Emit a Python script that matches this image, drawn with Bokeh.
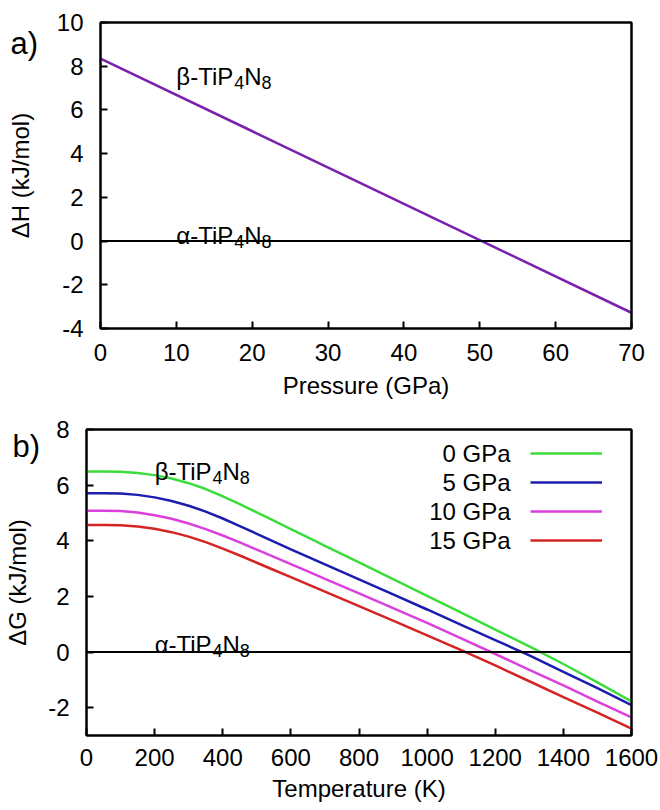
from bokeh.plotting import figure
from bokeh.models import Span, Label, Legend, LegendItem, FixedTicker, Range1d, LinearAxis
from bokeh.embed import file_html
from bokeh.resources import INLINE

FONT = "Liberation Sans"

# ---------------- data: panel a ----------------
pressure = [0, 70]
dH_beta = [8.35, -3.28]
xticks_a = [0, 10, 20, 30, 40, 50, 60, 70]
yticks_a = [-4, -2, 0, 2, 4, 6, 8, 10]

# ---------------- data: panel b ----------------
temperature = [0, 50, 100, 150, 200, 250, 300, 350, 400, 450, 500, 550, 600, 650, 700,
               800, 900, 1000, 1100, 1200, 1300, 1400, 1500, 1600]
dG_0GPa = [6.49, 6.49, 6.48, 6.44, 6.36, 6.24, 6.07, 5.86, 5.60, 5.32, 5.02, 4.72, 4.42, 4.12, 3.82,
           3.22, 2.62, 2.02, 1.42, 0.81, 0.20, -0.43, -1.09, -1.77]
dG_5GPa = [5.71, 5.71, 5.70, 5.65, 5.56, 5.43, 5.26, 5.05, 4.80, 4.53, 4.25, 3.97, 3.69, 3.42, 3.15,
           2.61, 2.07, 1.53, 0.98, 0.43, -0.12, -0.71, -1.30, -1.91]
dG_10GPa = [5.08, 5.08, 5.07, 5.02, 4.92, 4.79, 4.62, 4.42, 4.19, 3.94, 3.68, 3.42, 3.16, 2.90, 2.63,
            2.11, 1.58, 1.05, 0.49, -0.07, -0.64, -1.20, -1.78, -2.35]
dG_15GPa = [4.57, 4.57, 4.56, 4.51, 4.43, 4.31, 4.15, 3.95, 3.72, 3.47, 3.21, 2.95, 2.69, 2.43, 2.17,
            1.65, 1.13, 0.60, 0.07, -0.48, -1.05, -1.62, -2.18, -2.75]
series_labels = ["0 GPa", "5 GPa", "10 GPa", "15 GPa"]
series_colors = ["#3ddc3d", "#1c1cae", "#dc40dc", "#d42424"]
xticks_b = [0, 200, 400, 600, 800, 1000, 1200, 1400, 1600]
yticks_b = [-2, 0, 2, 4, 6, 8]


def frame_axis():
    return LinearAxis(ticker=FixedTicker(ticks=[]), axis_line_width=2, axis_line_color="black",
                      major_tick_in=0, major_tick_out=0, minor_tick_in=0, minor_tick_out=0,
                      major_label_standoff=0, axis_label=None)


def style(p, xticks, yticks, xlabel, ylabel, xstand, ylab_standoff):
    xa = p.below[0]
    ya = p.left[0]
    p.grid.visible = False
    p.outline_line_color = "black"
    p.outline_line_width = 2
    xa.axis_label = xlabel
    ya.axis_label = ylabel
    xa.ticker = FixedTicker(ticks=xticks)
    ya.ticker = FixedTicker(ticks=yticks)
    ya.major_label_overrides = {t: str(t) for t in yticks}
    for ax in (xa, ya):
        ax.major_tick_in = 7
        ax.major_tick_out = 0
        ax.minor_tick_in = 0
        ax.minor_tick_out = 0
        ax.major_tick_line_width = 2
        ax.major_tick_line_color = "black"
        ax.axis_line_width = 2
        ax.axis_line_color = "black"
        ax.major_label_text_font = FONT
        ax.major_label_text_font_size = "24px"
        ax.major_label_text_color = "black"
        ax.axis_label_text_font = FONT
        ax.axis_label_text_font_style = "normal"
        ax.axis_label_text_font_size = "24px"
        ax.axis_label_text_color = "black"
    xa.major_label_standoff = xstand[0]
    xa.axis_label_standoff = xstand[1]
    ya.major_label_standoff = 17
    ya.axis_label_standoff = ylab_standoff
    p.add_layout(frame_axis(), "above")
    p.add_layout(frame_axis(), "right")


def formula(p, x, y, prefix):
    # e.g. beta-TiP4N8 with subscripts
    parts = [(prefix + "-TiP", 24, 0, 0), ("4", 18, 57.8, -6), ("N", 24, 67.8, 0), ("8", 18, 85.1, -6)]
    for txt, size, dx, dy in parts:
        p.add_layout(Label(x=x, y=y, text=txt, x_offset=dx, y_offset=dy,
                           text_font=FONT, text_font_size=f"{size}px", text_color="black",
                           text_align="left", text_baseline="alphabetic"))


def panel_tag(p, text, cx, cy):
    # panel letter drawn in canvas coordinates (side panel => not clipped to the frame)
    p.add_layout(Label(x=cx, y=cy, x_units="canvas", y_units="canvas", text=text, text_font=FONT,
                       text_font_size="31px", text_color="black", text_baseline="alphabetic"), "right")


# ---------------- panel a ----------------
pa = figure(frame_width=531, frame_height=306, x_range=Range1d(0, 70), y_range=Range1d(-4, 10),
            output_backend="svg", toolbar_location=None,
            min_border_left=100, min_border_right=0, min_border_top=22, min_border_bottom=76)
style(pa, xticks_a, yticks_a, "Pressure (GPa)", "ΔH (kJ/mol)", (15, 8), 20)
pa.add_layout(Span(location=0, dimension="width", line_color="black", line_width=2))
pa.line(pressure, dH_beta, line_color="#7b1fad", line_width=2.5)
formula(pa, 10, 7.53, "β")
formula(pa, 10, 0.26, "α")
panel_tag(pa, "a)", 10, 43)

# ---------------- panel b ----------------
pb = figure(frame_width=545, frame_height=306, x_range=Range1d(0, 1600), y_range=Range1d(-3, 8),
            output_backend="svg", toolbar_location=None,
            min_border_left=86, min_border_right=0, min_border_top=25, min_border_bottom=73)
style(pb, xticks_b, yticks_b, "Temperature (K)", "ΔG (kJ/mol)", (13, 6), 14)
pb.add_layout(Span(location=0, dimension="width", line_color="black", line_width=2))
renderers = []
for ys, col in zip([dG_0GPa, dG_5GPa, dG_10GPa, dG_15GPa], series_colors):
    renderers.append(pb.line(temperature, ys, line_color=col, line_width=2.5))

legend = Legend(items=[LegendItem(label=" ", renderers=[r]) for r in renderers],
                location=(444, 183), glyph_width=72, glyph_height=24, label_height=24,
                label_width=0, label_standoff=0, spacing=5, padding=0, margin=0,
                border_line_color=None, background_fill_alpha=0, label_text_font_size="1px")
pb.add_layout(legend)
legend_text_y = [7.14, 6.10, 5.05, 4.01]
for lab, ly in zip(series_labels, legend_text_y):
    pb.add_layout(Label(x=1245, y=ly, text=lab, text_font=FONT, text_font_size="24px",
                        text_color="black", text_align="right", text_baseline="middle"))

formula(pb, 200, 6.50, "β")
formula(pb, 200, 0.27, "α")
panel_tag(pb, "b)", 12, 42)

open("out.html", "w").write(file_html([pa, pb], INLINE))
